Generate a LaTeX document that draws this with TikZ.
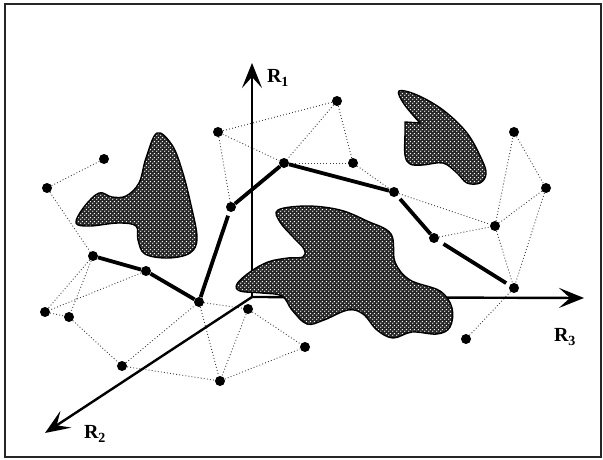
\documentclass[tikz,border=0pt]{standalone}
\usepackage{fontspec}
\setmainfont{Liberation Serif}
\usetikzlibrary{arrows.meta,patterns.meta}

\pgfdeclarepattern{name=obsdots, type=uncolored,
  bottom left={\pgfpoint{0pt}{0pt}}, top right={\pgfpoint{4pt}{4pt}},
  tile size={\pgfpoint{4pt}{4pt}},
  code={\pgfpathcircle{\pgfpoint{1pt}{1pt}}{0.85pt}
        \pgfpathcircle{\pgfpoint{3pt}{3pt}}{0.85pt}\pgfusepath{fill}}}

\begin{document}
\begin{tikzpicture}[
    x=1pt, y=-1pt,
    cfg/.style={circle, fill=black, inner sep=0pt, minimum size=10pt},
    edge/.style={line width=0.9pt, dash pattern=on 0.9pt off 2.2pt, black!75},
    route/.style={line width=3.8pt},
    axis/.style={line width=2.4pt, -{Stealth[length=25pt, width=20pt, inset=11pt]}},
    obstacle/.style={preaction={fill=black!85}, pattern=obsdots, pattern color=white, draw, line width=1.4pt},
    axlabel/.style={font=\fontsize{20}{22}\selectfont\bfseries}
]
\useasboundingbox (0,0) rectangle (603,460);
\draw[line width=1.5pt, black!85] (5,4) rectangle (601,457);

% configurations
\node[cfg] (q1) at (218,132) {};
\node[cfg] (q2) at (104,159) {};
\node[cfg] (q3) at (47,188) {};
\node[cfg] (q4) at (231,207) {};
\node[cfg] (q5) at (284,163) {};
\node[cfg] (q6) at (337,101) {};
\node[cfg] (q7) at (353,163) {};
\node[cfg] (q8) at (394,192) {};
\node[cfg] (q9) at (514,132) {};
\node[cfg] (q10) at (546,188) {};
\node[cfg] (q11) at (495,226) {};
\node[cfg] (q12) at (434,238) {};
\node[cfg] (q13) at (514,288) {};
\node[cfg] (q14) at (466,339) {};
\node[cfg] (q15) at (305,347) {};
\node[cfg] (q16) at (93,256) {};
\node[cfg] (q17) at (146,271) {};
\node[cfg] (q18) at (199,302) {};
\node[cfg] (q19) at (45,312) {};
\node[cfg] (q20) at (69,317) {};
\node[cfg] (q21) at (122,366) {};
\node[cfg] (q22) at (220,381) {};
\node[cfg] (q23) at (248,309) {};

% roadmap edges
\draw[edge] (q1) -- (q6);
\draw[edge] (q1) -- (q5);
\draw[edge] (q1) -- (q4);
\draw[edge] (q6) -- (q5);
\draw[edge] (q6) -- (q7);
\draw[edge] (q5) -- (q7);
\draw[edge] (q7) -- (q8);
\draw[edge] (q8) -- (q11);
\draw[edge] (q12) -- (q11);
\draw[edge] (q11) -- (q9);
\draw[edge] (q9) -- (q10);
\draw[edge] (q10) -- (q11);
\draw[edge] (q10) -- (q13);
\draw[edge] (q11) -- (q13);
\draw[edge] (q13) -- (q14);
\draw[edge] (q2) -- (q3);
\draw[edge] (q3) -- (q16);
\draw[edge] (q16) -- (q19);
\draw[edge] (q16) -- (q20);
\draw[edge] (q17) -- (q19);
\draw[edge] (q19) -- (q20);
\draw[edge] (q20) -- (q21);
\draw[edge] (q21) -- (q18);
\draw[edge] (q21) -- (q22);
\draw[edge] (q18) -- (q22);
\draw[edge] (q18) -- (q23);
\draw[edge] (q23) -- (q22);
\draw[edge] (q23) -- (q15);
\draw[edge] (q22) -- (q15);

% axes
\coordinate (o) at (252,297);
\coordinate (r1) at (252,63);
\coordinate (r2) at (45,433);
\coordinate (r3) at (584,298);
\draw[axis] (o) -- (r1);
\draw[axis] (o) -- (r2);
\draw[axis] (o) -- (r3);
\node[axlabel] (l1) at (278,78) {R\textsubscript{1}};
\node[axlabel] (l2) at (95,434) {R\textsubscript{2}};
\node[axlabel] (l3) at (565,337) {R\textsubscript{3}};

% obstacles
\draw[obstacle] plot[smooth cycle, tension=0.6] coordinates {
    (157,133) (172,145) (182,170) (191,205) (197,238) (190,253) (168,258)
    (145,254) (138,240) (136,226) (118,223) (90,226) (76,223) (84,207)
    (99,193) (112,197) (126,196) (139,183) (146,158)};
\draw[obstacle] plot[smooth, tension=0.6] coordinates {
    (420,123) (404,104) (399,91) (417,95) (443,110) (467,133) (482,160)
    (486,174) (480,183) (467,183) (457,173) (443,163) (423,165) (410,164)
    (405,155) (405,133) (405,122)} -- cycle;
\draw[obstacle] plot[smooth cycle, tension=0.6] coordinates {
    (278,210) (307,206) (340,210) (367,221) (391,234) (395,262) (410,280)
    (440,291) (452,308) (450,327) (437,334) (412,332) (393,338) (377,330)
    (363,314) (348,310) (324,320) (307,324) (292,310) (282,296) (262,293)
    (240,291) (237,284) (250,272) (268,262) (288,258) (303,257) (304,249)
    (293,237) (280,222)};

% route
\draw[route] (q16) -- (q17) -- (q18);
\draw[route, shorten >=4pt] (q18) -- (q4);
\draw[route, shorten <=4pt] (q4) -- (q5) -- (q8) -- (q12);
\draw[route, shorten <=6pt, shorten >=4pt] (q12) -- (q13);
\end{tikzpicture}
\end{document}
